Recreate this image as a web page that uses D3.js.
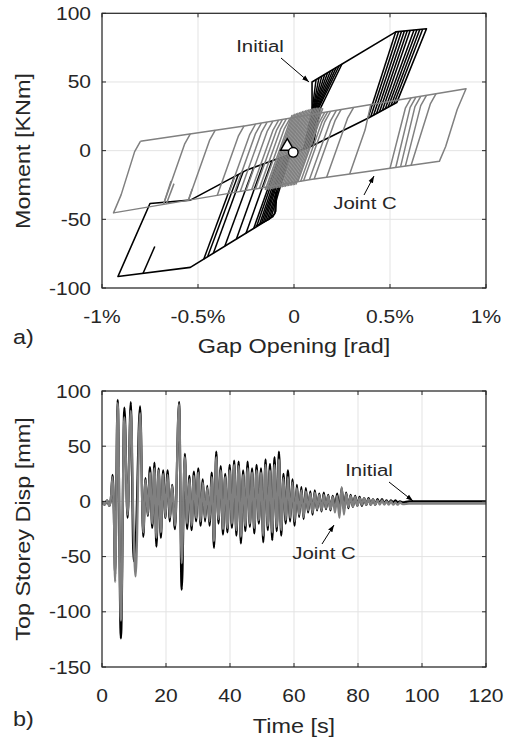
<!DOCTYPE html>
<html><head><meta charset="utf-8">
<script src="https://cdn.jsdelivr.net/npm/d3@7"></script>
<style>
body{margin:0;background:#fff}
svg{display:block}
text{font-family:"Liberation Sans",Arial,sans-serif;fill:#262626}
</style>
</head><body>
<svg id="c" width="508" height="742"></svg>
<script>
// ---------------- DATA ----------------
// Panel a) tick values / labels
const gapTicks = [-1, -0.5, 0, 0.5, 1];
const gapTickLabels = ["-1%", "-0.5%", "0", "0.5%", "1%"];
const momentTicks = [-100, -50, 0, 50, 100];
// Panel b) tick values
const timeTicks = [0, 20, 40, 60, 80, 100, 120];
const dispTicks = [-150, -100, -50, 0, 50, 100];

// Joint C hysteresis (gap opening %, moment kNm): outer loop + branches
const jointCEnvelope = [[-0.80,6.8],[-0.25,18.2],[0.30,31.2],[0.896,45.1],[0.85,30],[0.79,3],[0.757,-7.8],[0.30,-16.8],[0.087,-21],[-0.30,-30.2],[-0.94,-45.3],[-0.90,-32],[-0.83,-0.7],[-0.80,6.8]];
const jointCBranches = [
  [[-0.54,12.2],[-0.57,4.7],[-0.68,-39.2]],
  [[-0.41,14.9],[-0.44,7.4],[-0.55,-36.1]],
  [[-0.26,18.0],[-0.29,10.5],[-0.40,-32.6]],
  [[-0.20,19.4],[-0.23,11.9],[-0.34,-31.1]],
  [[-0.17,20.1],[-0.20,12.6],[-0.31,-30.4]],
  [[-0.14,20.8],[-0.17,13.3],[-0.28,-29.7]],
  [[-0.11,21.5],[-0.14,14.0],[-0.25,-29.0]],
  [[-0.08,22.2],[-0.11,14.7],[-0.22,-28.3]],
  [[-0.06,22.7],[-0.09,15.2],[-0.20,-27.8]],
  [[-0.04,23.1],[-0.07,15.6],[-0.18,-27.4]],
  [[-0.02,23.6],[-0.05,16.1],[-0.16,-27.0]],
  [[-0.01,26.0],[-0.15,-28.6]],
  [[-0.002,26.4],[-0.142,-28.5]],
  [[0.006,26.8],[-0.134,-28.4]],
  [[0.014,27.2],[-0.126,-28.2]],
  [[0.022,27.6],[-0.118,-28.0]],
  [[0.030,28.0],[-0.110,-27.8]],
  [[0.038,28.4],[-0.102,-27.6]],
  [[0.046,28.8],[-0.094,-27.4]],
  [[0.054,29.1],[-0.086,-27.2]],
  [[0.062,29.4],[-0.078,-27.0]],
  [[0.070,29.7],[-0.070,-26.8]],
  [[0.078,30.0],[-0.062,-26.6]],
  [[0.086,30.3],[-0.054,-26.4]],
  [[0.094,30.6],[-0.046,-26.2]],
  [[0.102,30.8],[-0.038,-26.0]],
  [[0.110,31.0],[-0.030,-25.8]],
  [[0.118,31.2],[-0.022,-25.6]],
  [[0.126,31.3],[-0.014,-25.4]],
  [[0.134,31.4],[-0.006,-25.2]],
  [[0.142,31.2],[0.002,-25.0]],
  [[0.150,30.8],[0.010,-24.6]],
  [[0.16,27.8],[0.13,20.3],[0.02,-22.6]],
  [[0.175,28.2],[0.145,20.7],[0.035,-22.3]],
  [[0.19,28.5],[0.16,21.0],[0.05,-21.9]],
  [[0.22,29.2],[0.19,21.7],[0.08,-21.2]],
  [[0.245,29.8],[0.215,22.3],[0.105,-20.6]],
  [[0.31,31.4],[0.28,23.9],[0.17,-19.4]],
  [[0.40,33.5],[0.37,15],[0.29,-17.0]],
  [[0.61,38.4],[0.58,30.9],[0.50,-12.9]],
  [[0.635,39.0],[0.605,31.5],[0.53,-12.3]],
  [[0.66,39.6],[0.63,32.1],[0.555,-11.8]],
  [[0.69,40.3],[0.66,32.8],[0.58,-11.3]],
  [[0.74,41.5],[0.71,34.0],[0.61,-10.7]],
  [[-0.68,-39.2],[-0.64,-22]],
  [[-0.665,-38.9],[-0.625,-24]],
  [[-0.55,-36.1],[-0.53,-28]]
];

// Initial hysteresis: outer loop + branches
const initialEnvelope = [[0.094,30],[0.094,50],[0.53,86.5],[0.69,88.7],[0.535,35],[0.39,24],[0.088,3],[-0.245,-14],[-0.54,-36],[-0.75,-38.5],[-0.917,-91.6],[-0.54,-85],[-0.11,-48],[-0.095,-44],[-0.09,-30]];
const initialBranches = [
  [[-0.786,-89.3],[-0.725,-69.8]],
  [[-0.47,-79.0],[-0.31,-18.8]],
  [[-0.45,-77.2],[-0.29,-17.4]],
  [[-0.42,-74.7],[-0.265,-15.4]],
  [[-0.36,-69.5],[-0.21,-12.2]],
  [[-0.30,-64.4],[-0.16,-9.7]],
  [[-0.25,-60.1],[-0.115,-7.3]],
  [[-0.21,-56.6],[-0.08,-5.5]],
  [[-0.195,-55.3],[-0.07,-5.0]],
  [[-0.18,-54.0],[-0.06,-4.5]],
  [[-0.17,-53.1],[-0.05,-4.0]],
  [[-0.16,-52.3],[-0.045,-3.7]],
  [[-0.15,-51.4],[-0.04,-3.5]],
  [[-0.14,-50.6],[-0.03,-3.0]],
  [[-0.13,-49.7],[-0.025,-2.7]],
  [[-0.12,-48.9],[-0.02,-2.5]],
  [[-0.20,-55],[-0.13,-50],[-0.10,-46],[-0.095,-30]],
  [[0.05,1.0],[0.095,30],[0.115,51.8]],
  [[0.055,1.3],[0.098,30],[0.13,53.0]],
  [[0.06,1.6],[0.10,30],[0.145,54.3]],
  [[0.065,1.9],[0.103,30],[0.16,55.5]],
  [[0.07,2.2],[0.106,30],[0.175,56.8]],
  [[0.075,2.5],[0.11,30],[0.19,58.0]],
  [[0.08,2.8],[0.115,30],[0.205,59.3]],
  [[0.085,3.0],[0.12,30],[0.22,60.6]],
  [[0.09,3.2],[0.125,30],[0.235,61.8]],
  [[0.10,3.9],[0.135,30],[0.25,63.1]],
  [[0.385,23.6],[0.53,86.5]],
  [[0.40,24.8],[0.545,86.7]],
  [[0.415,25.9],[0.56,86.9]],
  [[0.43,27.0],[0.575,87.1]],
  [[0.445,28.2],[0.59,87.3]],
  [[0.46,29.3],[0.605,87.5]],
  [[0.475,30.4],[0.625,87.8]],
  [[0.49,31.6],[0.64,88.0]],
  [[0.505,32.7],[0.655,88.2]],
  [[0.52,33.9],[0.67,88.4]]
];
// start / end markers
const markerTriangle = [-0.035, 3.1];
const markerCircle = [-0.004, -1.2];

// Panel b) time history (s, mm)
const timeSec = [0,0.8,1.6,2.3,2.8,3.3,3.7,4.1,4.9,5.9,
 7.0,8.0,9.0,9.9,10.5,11.9,12.9,13.6,14.3,15.0,
 15.7,16.4,17.0,17.7,18.4,19.1,19.8,20.5,21.2,21.9,
 22.8,24.1,24.9,25.9,26.6,27.3,28.0,28.7,29.4,30.1,
 30.8,31.5,32.2,32.9,33.6,34.3,35.0,35.7,36.4,37.1,
 37.8,38.5,39.2,39.9,40.6,41.3,42.0,42.7,43.4,44.1,
 44.8,45.5,46.2,46.9,47.6,48.3,49.0,49.7,50.4,51.1,
 51.8,52.5,53.2,53.9,54.6,55.3,56.0,56.7,57.4,58.1,
 58.8,59.5,60.2,60.9,61.6,62.3,63.0,63.7,64.4,65.1,
 65.8,66.5,67.2,67.9,68.6,69.3,70.0,70.7,71.4,72.1,
 72.8,73.5,74.2,74.9,75.6,76.3,77.0,77.7,78.4,79.1,
 79.8,80.5,81.2,81.9,82.6,83.3,84.0,84.7,85.4,86.1,
 86.8,87.5,88.2,88.9,89.6,90.3,91.0,91.7,92.4,93.1,
 94,96,100,110,120];
const dispInitial = [0,-3,1,-4,3,24,-8,-66,92,-124,
 85,-15,90,-54,-40,86,-32,21,-13,31,
 -24,35,-41,30,-33,28,-15,28,-18,15,
 -25,90,-80,43,-25,23,-26,27,-18,30,
 -22,20,-18,14,-22,26,-42,45,-20,32,
 -30,25,-28,33,-24,37,-31,36,-38,28,
 -27,36,-23,30,-29,33,-20,30,-37,38,
 -26,34,-35,40,-27,45,-31,25,-20,28,
 -18,20,-22,15,-14,13,-16,12,-10,9,
 -12,10,-8,7,-9,8,-7,6,-8,5,
 -6,7,-9,12,-8,8,-6,6,-5,5,
 -4,4,-4,3,-3,3,-3,2,-3,2,
 -2,2,-2,1,-2,1,-1,1,-1,0,
 -1,0,0,0,0];
const dispJointC = [0,-3,1,-4,3,22,-5,-73,89,-108,
 76,-12,82,-30,-68,80,-28,19,-12,26,
 -20,30,-33,28,-28,25,-14,24,-15,14,
 -22,88,-56,40,-20,20,-22,23,-15,26,
 -18,17,-15,12,-18,22,-36,40,-16,28,
 -25,22,-24,28,-20,33,-26,32,-32,24,
 -22,30,-20,26,-24,28,-17,26,-31,33,
 -22,28,-28,33,-23,38,-26,21,-17,22,
 -15,17,-18,12,-12,10,-14,9,-8,7,
 -10,8,-7,6,-8,6,-6,5,-7,4,
 -10,5,-15,13,-12,7,-5,5,-5,4,
 -4,3,-3,3,-3,2,-3,2,-3,1,
 -3,1,-3,0,-3,0,-3,-1,-3,-1,
 -2.5,-2,-2,-2,-2];

// ---------------- DRAW ----------------
const svg = d3.select("#c");
svg.append("rect").attr("width",508).attr("height",742).attr("fill","#fff");
const SX = 1.2;
const AX = "#262626", GRID = "#e3e3e3";
const GRAY = "#808080";

function label(x, y, s, size, anchor, rot) {
  const g = svg.append("g").attr("transform", `translate(${x},${y}) rotate(${rot||0}) scale(${SX},1)`);
  g.append("text").attr("text-anchor", anchor || "middle").attr("font-size", size).text(s);
}
function arrow(x1, y1, x2, y2) {
  svg.append("line").attr("x1",x1).attr("y1",y1).attr("x2",x2).attr("y2",y2)
    .attr("stroke","#000").attr("stroke-width",1).attr("marker-end","url(#ah)");
}
const defs = svg.append("defs");
defs.append("marker").attr("id","ah").attr("viewBox","0 0 10 10").attr("refX",10).attr("refY",5)
  .attr("markerWidth",7).attr("markerHeight",7).attr("markerUnits","userSpaceOnUse").attr("orient","auto")
  .append("path").attr("d","M0,1.5L10,5L0,8.5Z").attr("fill","#000");

function panel(id, xs, ys, xt, xl, yt) {
  const [x0, x1] = xs.range(), [y0, y1] = ys.range();
  defs.append("clipPath").attr("id", id).append("rect")
    .attr("x", x0).attr("y", y1).attr("width", x1 - x0).attr("height", y0 - y1);
  const g = svg.append("g");
  xt.forEach(v => g.append("line").attr("x1", xs(v)).attr("x2", xs(v)).attr("y1", y0).attr("y2", y1).attr("stroke", GRID).attr("stroke-width", 1));
  yt.forEach(v => g.append("line").attr("y1", ys(v)).attr("y2", ys(v)).attr("x1", x0).attr("x2", x1).attr("stroke", GRID).attr("stroke-width", 1));
  xt.forEach((v, i) => label(xs(v), y0 + 35, xl[i], 17.5, "middle"));
  yt.forEach(v => label(x0 - 11, ys(v) + 6.5, String(v), 17.5, "end"));
  return g;
}
function frame(xs, ys, xt, yt) {
  const [x0, x1] = xs.range(), [y0, y1] = ys.range();
  const g = svg.append("g");
  const T = 4;
  xt.forEach(v => {
    g.append("line").attr("x1", xs(v)).attr("x2", xs(v)).attr("y1", y0).attr("y2", y0 - T).attr("stroke", AX);
    g.append("line").attr("x1", xs(v)).attr("x2", xs(v)).attr("y1", y1).attr("y2", y1 + T).attr("stroke", AX);
  });
  yt.forEach(v => {
    g.append("line").attr("y1", ys(v)).attr("y2", ys(v)).attr("x1", x0).attr("x2", x0 + T).attr("stroke", AX);
    g.append("line").attr("y1", ys(v)).attr("y2", ys(v)).attr("x1", x1).attr("x2", x1 - T).attr("stroke", AX);
  });
  g.append("rect").attr("x", x0).attr("y", y1).attr("width", x1 - x0).attr("height", y0 - y1)
    .attr("fill", "none").attr("stroke", AX).attr("stroke-width", 1.2);
}

// ---- Panel a
const xA = d3.scaleLinear().domain([-1, 1]).range([102, 486]);
const yA = d3.scaleLinear().domain([-100, 100]).range([288, 13.3]);
panel("clipA", xA, yA, gapTicks, gapTickLabels, momentTicks);
const lineA = d3.line().x(d => xA(d[0])).y(d => yA(d[1]));
const gA = svg.append("g").attr("clip-path", "url(#clipA)").attr("fill", "none").attr("stroke-linejoin", "round");
gA.append("path").attr("d", lineA(initialEnvelope)).attr("stroke", "#000").attr("stroke-width", 1.6);
initialBranches.forEach(b => gA.append("path").attr("d", lineA(b)).attr("stroke", "#000").attr("stroke-width", 1.5));
gA.append("path").attr("d", lineA(jointCEnvelope)).attr("stroke", GRAY).attr("stroke-width", 1.5);
jointCBranches.forEach(b => gA.append("path").attr("d", lineA(b)).attr("stroke", GRAY).attr("stroke-width", 1.5));
const tri = d3.symbol().type(d3.symbolTriangle).size(80);
svg.append("path").attr("d", tri()).attr("transform", `translate(${xA(markerTriangle[0])},${yA(markerTriangle[1])})`)
  .attr("fill", "#fff").attr("stroke", "#000").attr("stroke-width", 1.4);
svg.append("circle").attr("cx", xA(markerCircle[0])).attr("cy", yA(markerCircle[1])).attr("r", 4.8)
  .attr("fill", "#fff").attr("stroke", "#000").attr("stroke-width", 1.4);
frame(xA, yA, gapTicks, momentTicks);

label(260, 52, "Initial", 17, "middle");
arrow(281, 58, 309, 82);
label(365, 209, "Joint C", 17, "middle");
arrow(364, 195, 374, 176);

label(294, 353, "Gap Opening [rad]", 19.5, "middle");
label(30, 151, "Moment [KNm]", 19.5, "middle", -90);
label(13, 344, "a)", 19.5, "start");

// ---- Panel b
const xB = d3.scaleLinear().domain([0, 120]).range([102, 486]);
const yB = d3.scaleLinear().domain([-150, 100]).range([667, 391]);
panel("clipB", xB, yB, timeTicks, timeTicks.map(String), dispTicks);
const lineB = d3.line().x((d, i) => xB(timeSec[i])).y(d => yB(d)).curve(d3.curveMonotoneX);
const gB = svg.append("g").attr("clip-path", "url(#clipB)").attr("fill", "none").attr("stroke-linejoin", "round");
gB.append("path").attr("d", lineB(dispInitial)).attr("stroke", "#000").attr("stroke-width", 2.3);
gB.append("path").attr("d", lineB(dispJointC)).attr("stroke", GRAY).attr("stroke-width", 2.3);
frame(xB, yB, timeTicks, dispTicks);

label(369, 476, "Initial", 17, "middle");
arrow(389, 482, 413, 501);
label(324, 559, "Joint C", 17, "middle");
arrow(322, 544, 334, 525);

label(294, 733, "Time [s]", 19.5, "middle");
label(30, 529, "Top Storey Disp [mm]", 19.5, "middle", -90);
label(13, 726, "b)", 19.5, "start");
</script>
</body></html>
